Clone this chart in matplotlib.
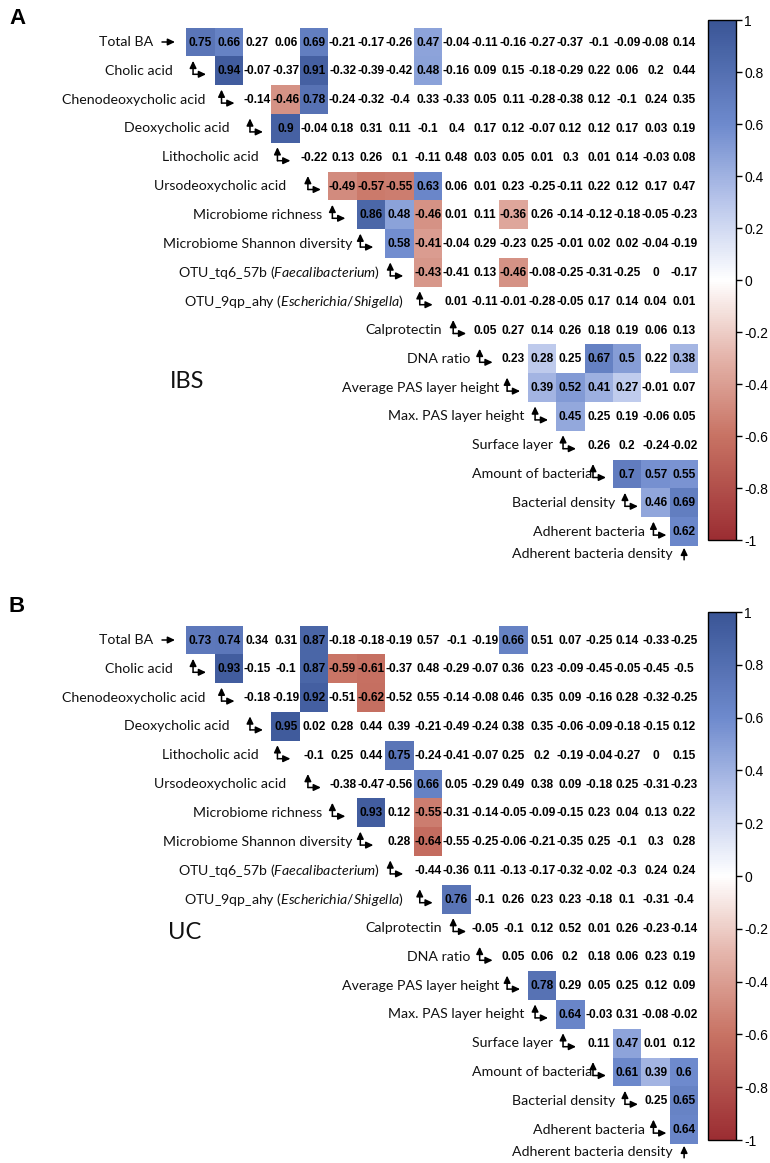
import numpy as np
import matplotlib
matplotlib.use("Agg")
import matplotlib.pyplot as plt
from matplotlib.colors import LinearSegmentedColormap, Normalize
from matplotlib.cm import ScalarMappable

plt.rcParams['mathtext.fontset'] = 'custom'
plt.rcParams['mathtext.rm'] = 'Lato'
plt.rcParams['mathtext.it'] = 'Lato:italic'

# ---------------- data ----------------
variables = [
    "Total BA", "Cholic acid", "Chenodeoxycholic acid", "Deoxycholic acid",
    "Lithocholic acid", "Ursodeoxycholic acid", "Microbiome richness",
    "Microbiome Shannon diversity",
    "OTU_tq6_57b ($\\mathit{Faecalibacterium}$)",
    "OTU_9qp_ahy ($\\mathit{Escherichia/Shigella}$)",
    "Calprotectin", "DNA ratio", "Average PAS layer height",
    "Max. PAS layer height", "Surface layer", "Amount of bacteria",
    "Bacterial density", "Adherent bacteria", "Adherent bacteria density",
]

# row i holds correlations of variable i with variables i+1 .. 18
ibs_values = [
    [0.75, 0.66, 0.27, 0.06, 0.69, -0.21, -0.17, -0.26, 0.47, -0.04, -0.11, -0.16, -0.27, -0.37, -0.1, -0.09, -0.08, 0.14],
    [0.94, -0.07, -0.37, 0.91, -0.32, -0.39, -0.42, 0.48, -0.16, 0.09, 0.15, -0.18, -0.29, 0.22, 0.06, 0.2, 0.44],
    [-0.14, -0.46, 0.78, -0.24, -0.32, -0.4, 0.33, -0.33, 0.05, 0.11, -0.28, -0.38, 0.12, -0.1, 0.24, 0.35],
    [0.9, -0.04, 0.18, 0.31, 0.11, -0.1, 0.4, 0.17, 0.12, -0.07, 0.12, 0.12, 0.17, 0.03, 0.19],
    [-0.22, 0.13, 0.26, 0.1, -0.11, 0.48, 0.03, 0.05, 0.01, 0.3, 0.01, 0.14, -0.03, 0.08],
    [-0.49, -0.57, -0.55, 0.63, 0.06, 0.01, 0.23, -0.25, -0.11, 0.22, 0.12, 0.17, 0.47],
    [0.86, 0.48, -0.46, 0.01, 0.11, -0.36, 0.26, -0.14, -0.12, -0.18, -0.05, -0.23],
    [0.58, -0.41, -0.04, 0.29, -0.23, 0.25, -0.01, 0.02, 0.02, -0.04, -0.19],
    [-0.43, -0.41, 0.13, -0.46, -0.08, -0.25, -0.31, -0.25, 0, -0.17],
    [0.01, -0.11, -0.01, -0.28, -0.05, 0.17, 0.14, 0.04, 0.01],
    [0.05, 0.27, 0.14, 0.26, 0.18, 0.19, 0.06, 0.13],
    [0.23, 0.28, 0.25, 0.67, 0.5, 0.22, 0.38],
    [0.39, 0.52, 0.41, 0.27, -0.01, 0.07],
    [0.45, 0.25, 0.19, -0.06, 0.05],
    [0.26, 0.2, -0.24, -0.02],
    [0.7, 0.57, 0.55],
    [0.46, 0.69],
    [0.62],
]
# significant (coloured) cells: column indices per row
ibs_significant = [
    [1, 2, 5, 9], [2, 5, 9], [4, 5], [4], [], [6, 7, 8, 9], [7, 8, 9, 12],
    [8, 9], [9, 12], [], [], [13, 15, 16, 18], [13, 14, 15, 16], [14], [],
    [16, 17, 18], [17, 18], [18],
]

uc_values = [
    [0.73, 0.74, 0.34, 0.31, 0.87, -0.18, -0.18, -0.19, 0.57, -0.1, -0.19, 0.66, 0.51, 0.07, -0.25, 0.14, -0.33, -0.25],
    [0.93, -0.15, -0.1, 0.87, -0.59, -0.61, -0.37, 0.48, -0.29, -0.07, 0.36, 0.23, -0.09, -0.45, -0.05, -0.45, -0.5],
    [-0.18, -0.19, 0.92, -0.51, -0.62, -0.52, 0.55, -0.14, -0.08, 0.46, 0.35, 0.09, -0.16, 0.28, -0.32, -0.25],
    [0.95, 0.02, 0.28, 0.44, 0.39, -0.21, -0.49, -0.24, 0.38, 0.35, -0.06, -0.09, -0.18, -0.15, 0.12],
    [-0.1, 0.25, 0.44, 0.75, -0.24, -0.41, -0.07, 0.25, 0.2, -0.19, -0.04, -0.27, 0, 0.15],
    [-0.38, -0.47, -0.56, 0.66, 0.05, -0.29, 0.49, 0.38, 0.09, -0.18, 0.25, -0.31, -0.23],
    [0.93, 0.12, -0.55, -0.31, -0.14, -0.05, -0.09, -0.15, 0.23, 0.04, 0.13, 0.22],
    [0.28, -0.64, -0.55, -0.25, -0.06, -0.21, -0.35, 0.25, -0.1, 0.3, 0.28],
    [-0.44, -0.36, 0.11, -0.13, -0.17, -0.32, -0.02, -0.3, 0.24, 0.24],
    [0.76, -0.1, 0.26, 0.23, 0.23, -0.18, 0.1, -0.31, -0.4],
    [-0.05, -0.1, 0.12, 0.52, 0.01, 0.26, -0.23, -0.14],
    [0.05, 0.06, 0.2, 0.18, 0.06, 0.23, 0.19],
    [0.78, 0.29, 0.05, 0.25, 0.12, 0.09],
    [0.64, -0.03, 0.31, -0.08, -0.02],
    [0.11, 0.47, 0.01, 0.12],
    [0.61, 0.39, 0.6],
    [0.25, 0.65],
    [0.64],
]
uc_significant = [
    [1, 2, 5, 12], [2, 5, 6, 7], [5, 7], [4], [8], [9], [7, 9], [9], [], [10],
    [], [], [13], [14], [16], [16, 17, 18], [18], [18],
]

colorbar_ticks = [1, 0.8, 0.6, 0.4, 0.2, 0, -0.2, -0.4, -0.6, -0.8, -1]

# ---------------- style ----------------
W, H = 770, 1163
CW, RH = 28.46, 28.8          # cell width / height in px
COL0 = 157.6                  # left edge of column 0 (px)
LABEL_FONT = 'Lato'
NUM_FONT = 'Liberation Sans'

# px offsets (relative to left edge of the diagonal column) of label end / arrow
label_end_px = [-4.6, -13, -9.5, -13, -13, -14, -6.7, -4.5, -5, -10.5, 0, 0, 0, -3.5, -3, 7.5, 2, 4]
arrow_px = [4.4, 7, 7, 7, 6, 8, 4, 3.5, 5, 6, 11, 9, 8, 7.5, 7, 8.5, 12, 12]

cmap = LinearSegmentedColormap.from_list(
    "corr",
    [(0.0, "#9B2D32"), (0.2, "#C87364"), (0.35, "#E4B4AA"), (0.5, "#FFFFFF"),
     (0.65, "#B9C6EB"), (0.8, "#6E8ACD"), (1.0, "#3A5596")])
norm = Normalize(-1, 1)

fig = plt.figure(figsize=(W / 100, H / 100), dpi=100)


def rect(x0, y0, x1, y1):
    return [x0 / W, 1 - y1 / H, (x1 - x0) / W, (y1 - y0) / H]


def arrow(ax, start, end):
    ax.annotate("", xy=end, xytext=start, annotation_clip=False,
                arrowprops=dict(arrowstyle="-|>,head_length=0.42,head_width=0.2",
                                lw=1.1, color="black", shrinkA=0, shrinkB=0,
                                mutation_scale=10))


def panel(top_px, values, significant, group, group_pos, cbar_px, letter, letter_y):
    nrows = 18.65
    ax = fig.add_axes(rect(COL0, top_px, COL0 + 19 * CW, top_px + nrows * RH))
    ax.set_xlim(0, 19)
    ax.set_ylim(nrows, 0)
    ax.axis("off")
    n = len(variables)
    M = np.full((n, n), np.nan)
    for i, (row, sig) in enumerate(zip(values, significant)):
        for k, v in enumerate(row):
            j = i + 1 + k
            if j in sig:
                M[i, j] = v
    ax.pcolormesh(np.arange(n + 1), np.arange(n + 1), np.ma.masked_invalid(M),
                  cmap=cmap, norm=norm, antialiased=False, snap=True)
    for i, row in enumerate(values):
        for k, v in enumerate(row):
            j = i + 1 + k
            ax.text(j + 0.5, i + 0.52, f"{v:g}", ha="center", va="center",
                    fontsize=8.6, fontweight="bold", family=NUM_FONT)
    # labels + arrows
    for i in range(n - 1):
        ax.text(i + label_end_px[i] / CW, i + 0.5, variables[i], ha="right",
                va="center", fontsize=10.2, family=LABEL_FONT, color="#111111")
        ax0 = i + arrow_px[i] / CW
        if i == 0:
            arrow(ax, (ax0, 0.5), (ax0 + 13 / CW, 0.5))
        else:
            cy = i + 0.5 + 3.5 / RH
            arrow(ax, (ax0, cy), (ax0, i + 0.5 - 10 / RH))
            arrow(ax, (ax0, cy), (ax0 + 13 / CW, cy))
    ly = 18.28
    ax.text(18 + 3 / CW, ly, variables[-1], ha="right", va="center",
            fontsize=10.2, family=LABEL_FONT, color="#111111")
    arrow(ax, (18.5, ly + 0.2), (18.5, ly - 0.22))
    ax.text(group_pos[0], group_pos[1], group, ha="left", va="center",
            fontsize=17, family=LABEL_FONT, color="#111111")
    # colourbar
    cax = fig.add_axes(rect(708, cbar_px[0], 736, cbar_px[1]))
    cb = fig.colorbar(ScalarMappable(norm=norm, cmap=cmap), cax=cax,
                      ticks=colorbar_ticks)
    cb.ax.set_yticklabels([f"{t:g}" for t in colorbar_ticks], family=NUM_FONT)
    cb.outline.set_linewidth(1.0)
    cb.ax.tick_params(length=4, width=1, labelsize=10, pad=2)
    fig.text(17 / W, 1 - letter_y / H, letter, fontsize=16, fontweight="bold",
             family=NUM_FONT, ha="center", va="center")


panel(27.6, ibs_values, ibs_significant, "IBS", (0.44, 12.3), (20, 540), "A", 18)
panel(625.6, uc_values, uc_significant, "UC", (0.37, 10.67), (612, 1140), "B", 606)

fig.savefig("out.png", dpi=100)
